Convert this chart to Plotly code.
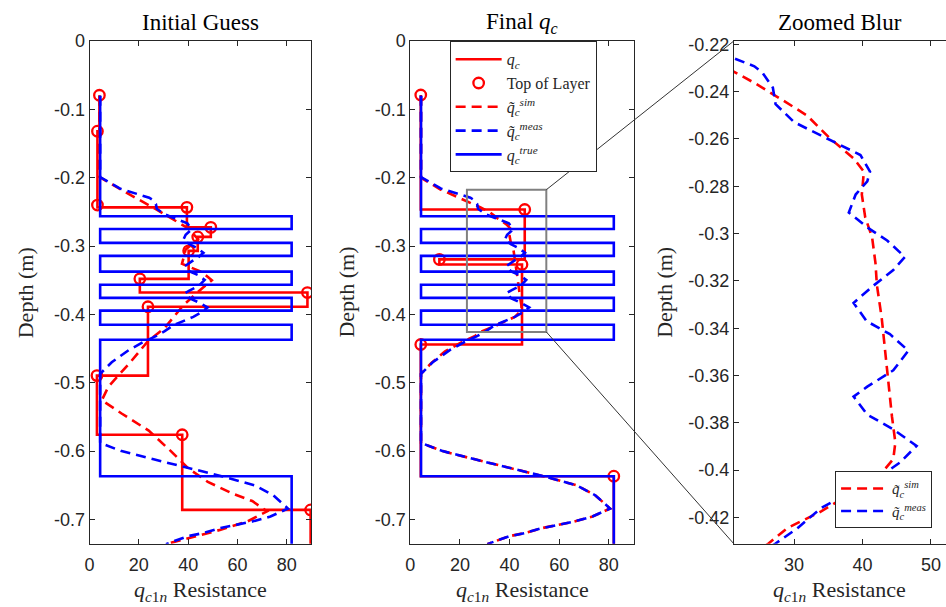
import plotly.graph_objects as go

# ------------------------------------------------------------------ data
depth_base = -0.75  # profiles continue below the plotted window

# true layered profile (q_c^true)
true_tops = [-0.080, -0.2565, -0.2751, -0.2953, -0.3144, -0.3374, -0.3565,
             -0.3758, -0.3945, -0.4151, -0.4371, -0.6367]
true_vals = [4.3, 82.0, 4.3, 82.0, 4.3, 82.0, 4.3, 82.0, 4.3, 82.0, 4.3, 82.0]

# initial guess layers (q_c, panel 1)
init_tops = [-0.0794, -0.132, -0.240, -0.2434, -0.2727, -0.2866, -0.307,
             -0.348, -0.368, -0.3888, -0.4895, -0.576, -0.686]
init_vals = [4.0, 3.2, 3.2, 39.5, 49.2, 43.9, 40.2, 20.4, 88.4, 23.7, 3.0, 37.6, 89.7]

# final layers (q_c, panel 2)
final_tops = [-0.079, -0.2465, -0.3195, -0.327, -0.444, -0.6367]
final_vals = [4.2, 46.1, 11.7, 45.0, 4.2, 82.0]

# measured blurred profile (q~_c^meas)
meas_vals = [4.3, 4.3, 12.4, 21.2, 24.2, 25.4, 26.9, 27.3, 30.0, 33.9, 35.8, 39.7,
             41.1, 40.7, 39.0, 38.0, 40.7, 43.6, 46.2, 44.5, 41.6, 38.7, 40.6, 44.0,
             46.7, 44.5, 40.7, 38.7, 40.7, 44.5, 47.9, 45.5, 42.1, 38.7, 33.9, 30.5,
             27.1, 22.0, 16.0, 9.0, 4.3, 4.3, 13.0, 26.0, 40.0, 54.0, 67.0, 74.5,
             80.5, 73.4, 66.0, 53.2, 45.9, 39.8, 31.0]
meas_depth = [-0.080, -0.199, -0.216, -0.2258, -0.2293, -0.2321, -0.2383, -0.2453,
              -0.2529, -0.2585, -0.2612, -0.2668, -0.2738, -0.2779, -0.2835, -0.2911,
              -0.2974, -0.3029, -0.3099, -0.3154, -0.3220, -0.3293, -0.3370, -0.3425,
              -0.3495, -0.3578, -0.3647, -0.3689, -0.3765, -0.3828, -0.3897, -0.3967,
              -0.4036, -0.4085, -0.4161, -0.4245, -0.4314, -0.4400, -0.4520, -0.4700,
              -0.4870, -0.5880, -0.6000, -0.6120, -0.6240, -0.6370, -0.6500, -0.6645,
              -0.6840, -0.6957, -0.7030, -0.7125, -0.7200, -0.7245, -0.7360]

# simulated blur of the initial guess (panel 1)
sim_init_vals = [4.0, 4.0, 13.0, 26.4, 40.0, 44.0, 39.0, 37.5, 45.6, 49.6, 45.6, 38.2,
                 30.4, 23.7, 17.0, 7.6, 5.0, 13.0, 24.0, 33.0, 40.0, 48.0, 58.0, 66.0,
                 72.0, 64.0, 53.2, 39.8, 31.0]
sim_init_depth = [-0.080, -0.199, -0.218, -0.245, -0.274, -0.290, -0.305, -0.326,
                  -0.338, -0.350, -0.362, -0.386, -0.420, -0.439, -0.468, -0.506,
                  -0.5255, -0.545, -0.570, -0.600, -0.625, -0.645, -0.662, -0.673,
                  -0.688, -0.703, -0.715, -0.727, -0.736]

# simulated blur of the final profile (panels 2 and 3)
sim_final_vals = [4.3, 4.3, 12.0, 21.2, 24.2, 28.1, 31.9, 35.3, 38.7, 40.2, 39.9, 40.4,
                  41.4, 41.9, 42.1, 42.8, 43.3, 43.8, 44.3, 44.8, 44.5, 42.1, 38.7, 33.9,
                  29.0, 26.1, 20.0, 14.0, 8.5, 4.3, 4.3, 13.0, 26.0, 40.0, 54.0, 67.0,
                  74.5, 80.5, 73.4, 66.0, 53.2, 45.9, 39.8, 31.0]
sim_final_depth = [-0.080, -0.200, -0.217, -0.2314, -0.2363, -0.2432, -0.2501, -0.2599,
                   -0.2682, -0.2738, -0.2835, -0.2932, -0.3015, -0.3126, -0.3217, -0.3355,
                   -0.3495, -0.3633, -0.3772, -0.3883, -0.3953, -0.4036, -0.4092, -0.4175,
                   -0.4245, -0.4314, -0.4420, -0.4540, -0.4710, -0.4870, -0.5880, -0.6000,
                   -0.6120, -0.6240, -0.6370, -0.6500, -0.6645, -0.6840, -0.6957, -0.7030,
                   -0.7125, -0.7200, -0.7245, -0.7360]

# zoom window drawn on panel 2  [x0, x1], [y0, y1]
zoom_box_x = [22.8, 54.8]
zoom_box_y = [-0.4256, -0.2176]

depth_ticks = [0, -0.1, -0.2, -0.3, -0.4, -0.5, -0.6, -0.7]
depth_ticktext = ["0", "-0.1", "-0.2", "-0.3", "-0.4", "-0.5", "-0.6", "-0.7"]
zoom_ticks = [-0.22, -0.24, -0.26, -0.28, -0.3, -0.32, -0.34, -0.36, -0.38, -0.4, -0.42]
zoom_ticktext = ["-0.22", "-0.24", "-0.26", "-0.28", "-0.3", "-0.32", "-0.34",
                 "-0.36", "-0.38", "-0.4", "-0.42"]
res_ticks = [0, 20, 40, 60, 80]
zoom_res_ticks = [30, 40, 50]

titles = ["Initial Guess", "Final <i>q</i><sub><i>c</i></sub>", "Zoomed Blur"]
xlabel = "<i>q</i><sub><i>c</i>1<i>n</i></sub> Resistance"
ylabel = "Depth (m)"

lbl_qc = "<i>q</i><sub><i>c</i></sub>"
lbl_top = "Top of Layer"
lbl_sim = "<i>q̃</i><sub><i>c</i></sub><sup><i>sim</i></sup>"
lbl_meas = "<i>q̃</i><sub><i>c</i></sub><sup><i>meas</i></sup>"
lbl_true = "<i>q</i><sub><i>c</i></sub><sup><i>true</i></sup>"

# ------------------------------------------------------------------ helpers
W, H = 946, 607
RED, BLUE = "#ff0000", "#0000ff"
AX = "#262626"
LW = 2.6
DASH = "10px,6px"


def step_path(tops, vals, base):
    xs, ys = [], []
    bounds = tops[1:] + [base]
    for v, t, b in zip(vals, tops, bounds):
        xs += [v, v]
        ys += [t, b]
    return xs, ys


dom_x = [[85 / W, 308 / W], [407.5 / W, 632 / W], [732.7 / W, 1.0]]
dom_y = [1 - 542.7 / H, 1 - 31.5 / H]
rng_x = [[0, 90], [0, 90], [21.2, 52.2]]
rng_y = [[-0.7355, 0], [-0.7355, 0], [-0.4311, -0.2186]]


def to_paper(i, xv, yv):
    px = dom_x[i][0] + (xv - rng_x[i][0]) / (rng_x[i][1] - rng_x[i][0]) * (dom_x[i][1] - dom_x[i][0])
    py = dom_y[0] + (yv - rng_y[i][0]) / (rng_y[i][1] - rng_y[i][0]) * (dom_y[1] - dom_y[0])
    return px, py


fig = go.Figure()

true_x, true_y = step_path(true_tops, true_vals, depth_base)


def add_panel(idx, tops, vals, sim_v, sim_d, show):
    xa = "x" if idx == 0 else "x%d" % (idx + 1)
    ya = "y" if idx == 0 else "y%d" % (idx + 1)
    qx, qy = step_path(tops, vals, depth_base)
    fig.add_trace(go.Scatter(x=qx, y=qy, mode="lines", name=lbl_qc, xaxis=xa, yaxis=ya,
                             line=dict(color=RED, width=LW), showlegend=show))
    fig.add_trace(go.Scatter(x=vals, y=tops, mode="markers", name=lbl_top, xaxis=xa, yaxis=ya,
                             marker=dict(symbol="circle-open", size=10.5, color=RED,
                                         line=dict(width=2.3, color=RED)), showlegend=show))
    fig.add_trace(go.Scatter(x=sim_v, y=sim_d, mode="lines", name=lbl_sim, xaxis=xa, yaxis=ya,
                             line=dict(color=RED, width=LW, dash=DASH), showlegend=show))
    fig.add_trace(go.Scatter(x=meas_vals, y=meas_depth, mode="lines", name=lbl_meas, xaxis=xa, yaxis=ya,
                             line=dict(color=BLUE, width=LW, dash=DASH), showlegend=show))
    fig.add_trace(go.Scatter(x=true_x, y=true_y, mode="lines", name=lbl_true, xaxis=xa, yaxis=ya,
                             line=dict(color=BLUE, width=LW), showlegend=show))


add_panel(0, init_tops, init_vals, sim_init_vals, sim_init_depth, False)
add_panel(1, final_tops, final_vals, sim_final_vals, sim_final_depth, True)

fig.add_trace(go.Scatter(x=sim_final_vals, y=sim_final_depth, mode="lines", name=lbl_sim,
                         xaxis="x3", yaxis="y3", legend="legend2",
                         line=dict(color=RED, width=LW, dash=DASH)))
fig.add_trace(go.Scatter(x=meas_vals, y=meas_depth, mode="lines", name=lbl_meas,
                         xaxis="x3", yaxis="y3", legend="legend2",
                         line=dict(color=BLUE, width=LW, dash=DASH)))

tickfont = dict(family="Liberation Sans, Arial, sans-serif", size=18, color=AX)
common = dict(showline=True, linecolor=AX, linewidth=1, ticks="inside", ticklen=5,
              tickcolor=AX, showgrid=False, zeroline=False, tickfont=tickfont)

layout = dict(
    width=W, height=H, margin=dict(l=0, r=0, t=0, b=0),
    paper_bgcolor="white", plot_bgcolor="white",
)
for i in range(3):
    sx = "" if i == 0 else str(i + 1)
    layout["xaxis" + sx] = dict(common, domain=dom_x[i], range=rng_x[i], anchor="y" + sx,
                                mirror="ticks", ticklabelstandoff=5,
                                tickvals=res_ticks if i < 2 else zoom_res_ticks)
    layout["yaxis" + sx] = dict(common, domain=dom_y, range=rng_y[i], anchor="x" + sx,
                                mirror="ticks" if i < 2 else False,
                                tickvals=depth_ticks if i < 2 else zoom_ticks,
                                ticktext=depth_ticktext if i < 2 else zoom_ticktext)
fig.update_layout(**layout)

serif = "Liberation Serif, Times New Roman, serif"
fig.update_layout(
    legend=dict(x=447 / W, y=1 - 165 / H, xanchor="left", yanchor="bottom", bgcolor="white",
                bordercolor=AX, borderwidth=1, tracegroupgap=0, itemwidth=46,
                font=dict(family=serif, size=16, color=AX)),
    legend2=dict(x=932 / W, y=1 - 527 / H, xanchor="right", yanchor="bottom", bgcolor="white",
                 bordercolor=AX, borderwidth=1, tracegroupgap=0, itemwidth=46,
                 font=dict(family=serif, size=15, color=AX)),
)

annots = []
centers = [(d[0] + d[1]) / 2 for d in dom_x]
for i in range(3):
    annots.append(dict(text=titles[i], x=centers[i], y=1 - 13 / H, xref="paper", yref="paper",
                       showarrow=False, xanchor="center", yanchor="middle",
                       font=dict(family=serif, size=23, color="black")))
    annots.append(dict(text=xlabel, x=centers[i], y=1 - 591 / H, xref="paper", yref="paper",
                       showarrow=False, xanchor="center", yanchor="middle",
                       font=dict(family=serif, size=22, color=AX)))
ylab_x = [20, 343, 663]
for i in range(3):
    annots.append(dict(text=ylabel, x=ylab_x[i] / W, y=(dom_y[0] + dom_y[1]) / 2, xref="paper",
                       yref="paper", showarrow=False, textangle=-90, xanchor="center",
                       yanchor="middle", font=dict(family=serif, size=22, color=AX)))
fig.update_layout(annotations=annots)

# zoom window and connectors
shapes = [dict(type="rect", xref="x2", yref="y2", x0=zoom_box_x[0], x1=zoom_box_x[1],
               y0=zoom_box_y[0], y1=zoom_box_y[1], line=dict(color="#808080", width=2),
               layer="above")]
p_a = to_paper(1, zoom_box_x[1], zoom_box_y[1])
p_b = to_paper(2, rng_x[2][0], rng_y[2][1])
p_c = to_paper(1, zoom_box_x[1], zoom_box_y[0])
p_d = to_paper(2, rng_x[2][0], rng_y[2][0])
for s, e in [(p_a, p_b), (p_c, p_d)]:
    shapes.append(dict(type="line", xref="paper", yref="paper", x0=s[0], y0=s[1], x1=e[0], y1=e[1],
                       line=dict(color="#333333", width=1), layer="above"))
fig.update_layout(shapes=shapes)

fig.write_html("out.html")
